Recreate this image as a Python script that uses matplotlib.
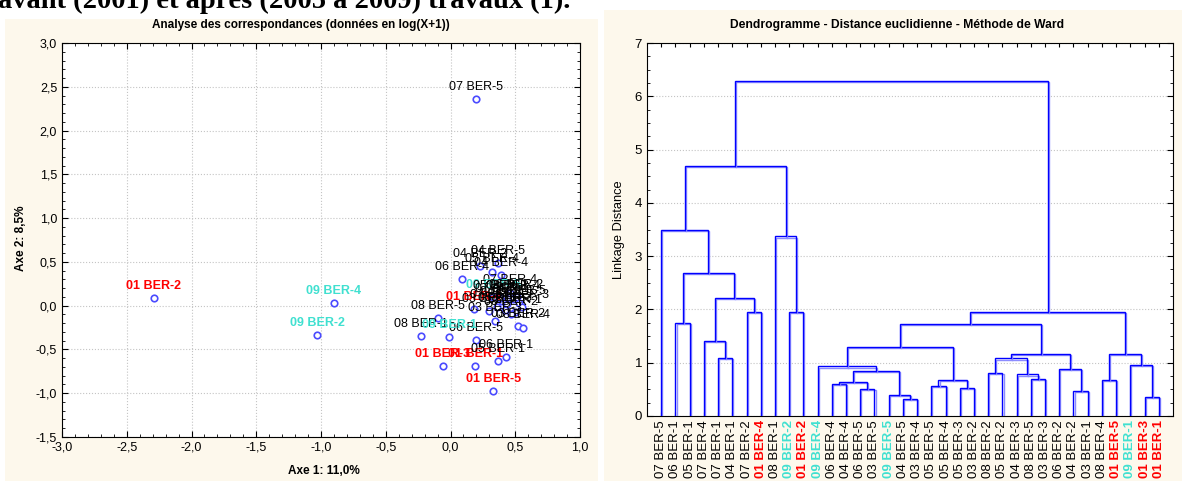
import matplotlib
matplotlib.use("Agg")
import matplotlib.pyplot as plt
import matplotlib.patheffects as pe
from matplotlib.patches import Rectangle
from matplotlib.ticker import MultipleLocator, FuncFormatter

plt.rcParams.update({"font.family": ["Liberation Sans", "DejaVu Sans"], "font.size": 8})

CREAM, RED, TURQ, BLUE, INK = "#fdf8ec", "#ff0000", "#40e0d0", "#0000ff", "#000000"
W, H = 1182, 483

# ---- correspondence analysis (axe 1 / axe 2 coordinates) -------------------
ca_labels = ["07 BER-5", "01 BER-2", "09 BER-4", "09 BER-2", "01 BER-5", "01 BER-3",
             "01 BER-1", "06 BER-1", "05 BER-1", "06 BER-5", "08 BER-1", "09 BER-1",
             "08 BER-5", "06 BER-4", "04 BER-5", "04 BER-2", "05 BER-4", "04 BER-4",
             "07 BER-4", "09 BER-5", "01 BER-4", "03 BER-3", "03 BER-2", "08 BER-4",
             "03 BER-1", "07 BER-1", "04 BER-1", "07 BER-2", "03 BER-5", "03 BER-4",
             "05 BER-5", "05 BER-3", "08 BER-2", "05 BER-2", "04 BER-3", "06 BER-2"]
ca_axe1 = [0.20, -2.29, -0.90, -1.03, 0.33, -0.06,
           0.19, 0.43, 0.37, 0.20, -0.23, -0.01,
           -0.10, 0.09, 0.37, 0.23, 0.32, 0.39,
           0.46, 0.33, 0.18, 0.34, 0.52, 0.56,
           0.50, 0.40, 0.44, 0.36, 0.30, 0.48,
           0.53, 0.42, 0.47, 0.38, 0.55, 0.51]
ca_axe2 = [2.36, 0.09, 0.03, -0.34, -0.98, -0.69,
           -0.69, -0.59, -0.63, -0.39, -0.35, -0.36,
           -0.14, 0.30, 0.49, 0.45, 0.39, 0.35,
           0.15, 0.10, -0.04, -0.17, -0.23, -0.25,
           -0.07, 0.05, 0.02, -0.02, -0.06, 0.08,
           0.03, -0.05, -0.10, 0.09, -0.02, 0.10]

# ---- Ward dendrogram: leaf order + merges (ids >= 36 are earlier merges) ----
leaf_labels = ["07 BER-5", "06 BER-1", "05 BER-1", "07 BER-4", "07 BER-1", "04 BER-1",
               "07 BER-2", "01 BER-4", "08 BER-1", "09 BER-2", "01 BER-2", "09 BER-4",
               "06 BER-4", "04 BER-4", "06 BER-5", "03 BER-5", "09 BER-5", "04 BER-5",
               "03 BER-4", "05 BER-5", "05 BER-4", "05 BER-3", "03 BER-2", "08 BER-2",
               "05 BER-2", "04 BER-3", "08 BER-5", "03 BER-3", "06 BER-2", "04 BER-2",
               "03 BER-1", "08 BER-4", "01 BER-5", "09 BER-1", "01 BER-3", "01 BER-1"]
merge_a = [17, 34, 16, 29, 14, 21, 19, 12, 43, 42, 31, 26, 25, 23, 44, 28, 11, 33,
           49, 4, 54, 46, 52, 3, 58, 1, 6, 9, 60, 59, 61, 8, 0, 68, 69]
merge_b = [18, 35, 36, 30, 15, 22, 20, 13, 40, 41, 32, 27, 47, 24, 38, 39, 50, 37,
           48, 5, 51, 53, 45, 55, 56, 2, 7, 10, 57, 62, 65, 63, 66, 67, 64]
merge_h = [0.32, 0.35, 0.40, 0.47, 0.51, 0.53, 0.56, 0.60, 0.64, 0.67, 0.68, 0.70,
           0.78, 0.80, 0.85, 0.88, 0.93, 0.96, 1.08, 1.09, 1.16, 1.17, 1.30, 1.41,
           1.73, 1.75, 1.96, 1.96, 1.96, 2.22, 2.68, 3.37, 3.50, 4.69, 6.28]


def style_of(name):
    if name.startswith("01"):
        return RED, "bold"
    if name.startswith("09"):
        return TURQ, "bold"
    return INK, "normal"


def box(x0, y0, x1, y1):
    return [x0 / W, 1 - y1 / H, (x1 - x0) / W, (y1 - y0) / H]


comma = FuncFormatter(lambda v, p: f"{v:.1f}".replace(".", ","))

fig = plt.figure(figsize=(W / 100, H / 100), dpi=100)
fig.add_artist(Rectangle((5 / W, 2 / H), 593 / W, 1 - 21 / H, transform=fig.transFigure,
                         facecolor=CREAM, edgecolor="none", zorder=0))
fig.add_artist(Rectangle((604 / W, 2 / H), 578 / W, 1 - 12 / H, transform=fig.transFigure,
                         facecolor=CREAM, edgecolor="none", zorder=0))
fig.text(-2 / W, 1 - 8 / H, "avant (2001) et après (2005 à 2009) travaux (1).",
         family="Liberation Serif", fontsize=20.5, weight="bold", ha="left", va="baseline")

# ---------------------------------------------------------------- scatter
ax1 = fig.add_axes(box(62, 43, 580, 437))
ax1.scatter(ca_axe1, ca_axe2, s=22, facecolor="white", edgecolor="#4b4bff", lw=1.2, zorder=3)
for name, x, y in zip(ca_labels, ca_axe1, ca_axe2):
    c, w = style_of(name)
    ax1.annotate(name, (x, y), xytext=(0, 4.5), textcoords="offset points", ha="center",
                 va="bottom", color=c, weight=w, fontsize=9, zorder=4)
ax1.set_xlim(-3, 1); ax1.set_ylim(-1.5, 3)
ax1.xaxis.set_major_locator(MultipleLocator(0.5)); ax1.xaxis.set_minor_locator(MultipleLocator(0.1))
ax1.yaxis.set_major_locator(MultipleLocator(0.5)); ax1.yaxis.set_minor_locator(MultipleLocator(0.1))
ax1.xaxis.set_major_formatter(comma); ax1.yaxis.set_major_formatter(comma)
ax1.tick_params(which="both", direction="in", top=True, right=True, labelsize=9)
ax1.tick_params(which="major", length=4); ax1.tick_params(which="minor", length=2.5)
ax1.grid(True, color="#c4c4c4", lw=0.8, ls=":")
ax1.set_axisbelow(True)
fig.text(301 / W, 1 - 25 / H, "Analyse des correspondances (données en log(X+1))",
         ha="center", va="center", weight="bold", fontsize=8.5)
fig.text(324 / W, 1 - 471 / H, "Axe 1: 11,0%", ha="center", va="center", weight="bold", fontsize=8.5)
fig.text(21 / W, 1 - 238 / H, "Axe 2: 8,5%", ha="center", va="center", weight="bold",
         fontsize=8.5, rotation=90)

# ------------------------------------------------------------- dendrogram
ax2 = fig.add_axes(box(647, 43, 1173, 416))
shade = [pe.SimpleLineShadow(offset=(0.8, -0.8), shadow_color="#8c8cff", alpha=1.0), pe.Normal()]
xpos = {i: i + 1.0 for i in range(len(leaf_labels))}
hgt = {i: 0.0 for i in range(len(leaf_labels))}
for k, (a, b, h) in enumerate(zip(merge_a, merge_b, merge_h)):
    node = len(leaf_labels) + k
    xa, xb = xpos[a], xpos[b]
    ax2.plot([xa, xa, xb, xb], [hgt[a], h, h, hgt[b]], color=BLUE, lw=1.0, zorder=3,
             solid_joinstyle="miter", path_effects=shade)
    xpos[node], hgt[node] = (xa + xb) / 2, h
ax2.set_xlim(0, len(leaf_labels) + 1); ax2.set_ylim(0, 7)
ax2.set_xticks(range(1, len(leaf_labels) + 1))
ax2.set_xticklabels(leaf_labels, rotation=90, fontsize=9.5)
for t, name in zip(ax2.get_xticklabels(), leaf_labels):
    c, w = style_of(name)
    t.set_color(c); t.set_fontweight(w)
ax2.yaxis.set_major_locator(MultipleLocator(1)); ax2.yaxis.set_minor_locator(MultipleLocator(0.25))
ax2.tick_params(which="both", direction="in", top=True, right=True)
ax2.tick_params(axis="y", labelsize=9.5)
ax2.tick_params(which="major", length=4); ax2.tick_params(which="minor", length=2.5)
ax2.tick_params(axis="x", length=3, pad=3)
ax2.grid(True, axis="y", color="#c4c4c4", lw=0.8, ls=":")
ax2.set_axisbelow(True)
fig.text(897 / W, 1 - 25 / H, "Dendrogramme - Distance euclidienne - Méthode de Ward",
         ha="center", va="center", weight="bold", fontsize=8.7)
fig.text(619 / W, 1 - 230 / H, "Linkage Distance", ha="center", va="center",
         fontsize=9.3, rotation=90)

fig.savefig("out.png", dpi=100)
